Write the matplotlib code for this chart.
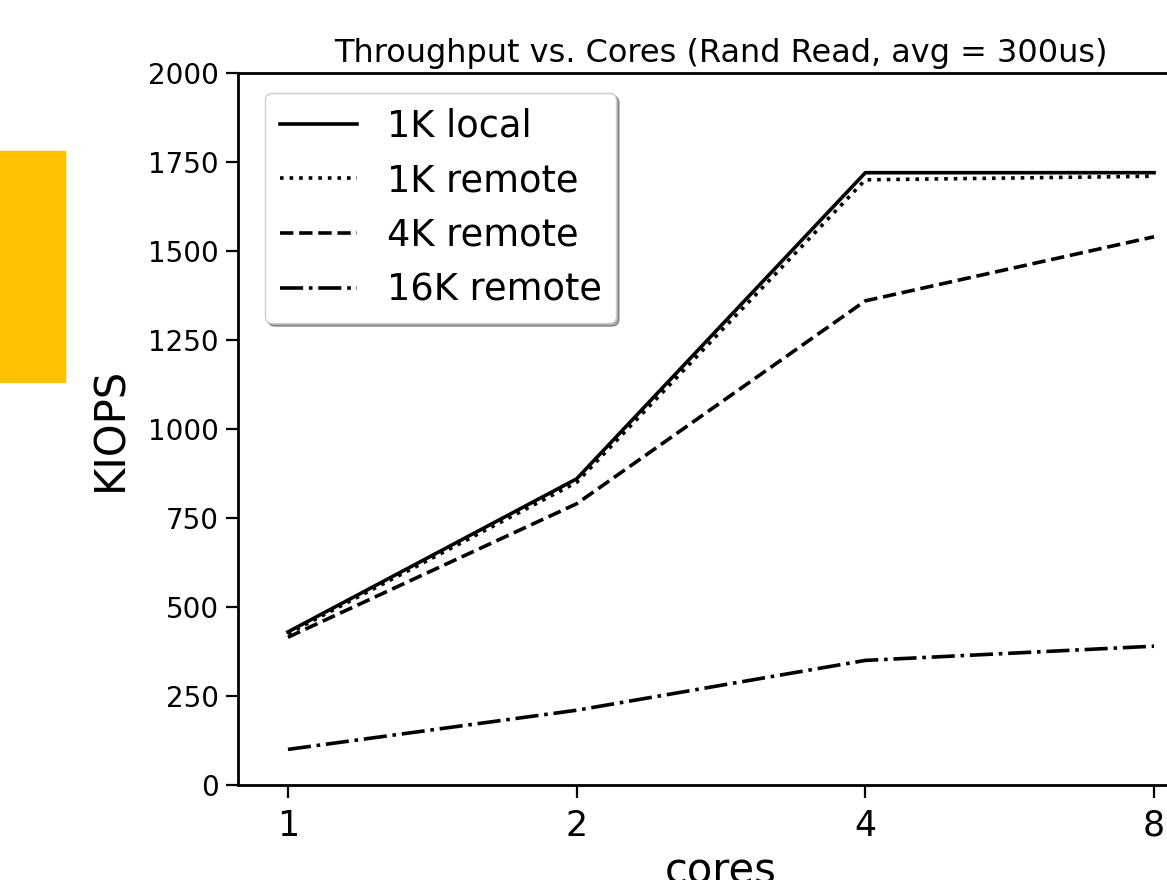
import matplotlib.pyplot as plt
from matplotlib.patches import Rectangle

# Données
cores = [1, 2, 4, 8]
local_1k = [430, 860, 1720, 1720]
remote_1k = [425, 850, 1700, 1710]
remote_4k = [415, 790, 1360, 1540]
remote_16k = [100, 210, 350, 390]

W, H = 1167, 880
fig = plt.figure(figsize=(W / 100, H / 100), dpi=100)

# bloc jaune à gauche
fig.patches.append(Rectangle((0, 1 - 382 / H), 65 / W, (382 - 151) / H,
                             transform=fig.transFigure, color="#FFC000",
                             zorder=0))

ax = fig.add_axes([238 / W, (H - 785) / H, 966 / W, 712 / H])

lw = 2.6
ax.plot(cores, local_1k, color="black", linestyle="-", linewidth=lw, label="1K local")
ax.plot(cores, remote_1k, color="black", linestyle=":", linewidth=lw, label="1K remote")
ax.plot(cores, remote_4k, color="black", linestyle="--", linewidth=lw, label="4K remote")
ax.plot(cores, remote_16k, color="black", linestyle="-.", linewidth=lw, label="16K remote")

ax.set_xscale("log", base=2)
ax.set_xlim(2 ** -0.173, 2 ** 3.173)
ax.set_ylim(0, 2000)
ax.set_xticks(cores)
ax.set_xticklabels([str(c) for c in cores])
ax.minorticks_off()
ax.set_yticks(range(0, 2001, 250))

ax.tick_params(axis="y", labelsize=20, length=9, width=1.6, pad=5)
ax.tick_params(axis="x", labelsize=25, length=9, width=1.6, pad=8)
for s in ax.spines.values():
    s.set_linewidth(2)

ax.set_title("Throughput vs. Cores (Rand Read, avg = 300us)", fontsize=23, pad=8)
ax.set_ylabel("KIOPS", fontsize=30, labelpad=12)
ax.set_xlabel("cores", fontsize=30, labelpad=6)

ax.legend(loc="upper left", bbox_to_anchor=(0.028, 0.972), borderaxespad=0,
          fontsize=26.5, shadow=True, fancybox=True, framealpha=1,
          edgecolor="#cccccc", handlelength=2.1, borderpad=0.4,
          labelspacing=0.48, handletextpad=0.8)

plt.savefig("out.png", dpi=100)
